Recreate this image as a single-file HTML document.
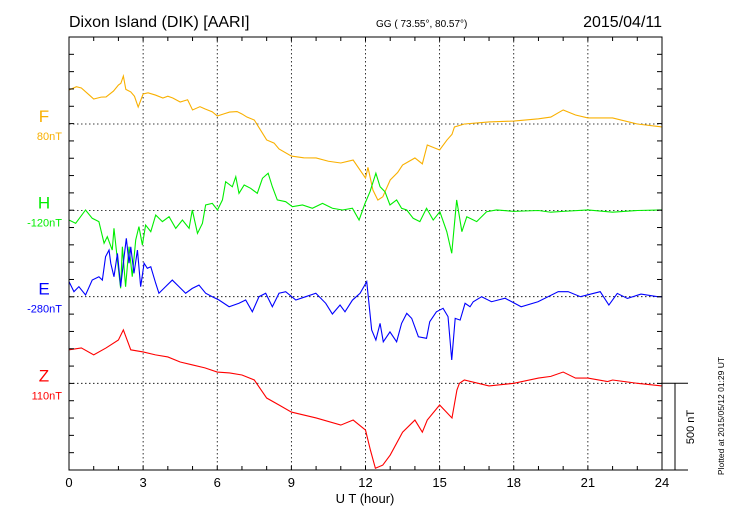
<!DOCTYPE html>
<html><head><meta charset="utf-8"><style>
body{margin:0;background:#fff;}
svg{display:block;font-family:"Liberation Sans",sans-serif;}
</style></head><body>
<svg width="730" height="520" viewBox="0 0 730 520">
<text x="69" y="27" font-size="16">Dixon Island (DIK)  [AARI]</text>
<text x="376" y="27" font-size="10">GG ( 73.55°,  80.57°)</text>
<text x="662" y="27" font-size="16" text-anchor="end">2015/04/11</text>
<g id="grid"></g>
<g id="series"></g>
<rect x="69" y="37" width="593" height="433" fill="none" stroke="#000" stroke-width="1"/>
<g id="axes"></g>
<text x="365" y="503" font-size="13" text-anchor="middle">U T (hour)</text>
<line x1="662" y1="383.3" x2="688" y2="383.3" stroke="#000"/>
<line x1="662" y1="470" x2="688" y2="470" stroke="#000"/>
<line x1="675" y1="383.3" x2="675" y2="470" stroke="#000"/>
<text transform="translate(694,427) rotate(-90)" font-size="11" text-anchor="middle">500 nT</text>
<text transform="translate(724,416) rotate(-90)" font-size="8.5" text-anchor="middle">Plotted at 2015/05/12 01:29 UT</text>
</svg>
<script>
const hours=[0,3,6,9,12,15,18,21,24];
const fT=[0,0.3,0.5,0.8,1,1.3,1.5,1.8,2,2.1,2.2,2.3,2.5,2.65,2.8,3,3.2,3.5,3.8,4,4.2,4.5,4.8,5,5.3,5.5,5.8,6,6.3,6.5,6.8,7,7.2,7.5,8,8.3,8.5,9,9.5,10,10.5,11,11.5,12,12.1,12.3,12.5,12.7,13,13.3,13.5,14,14.3,14.5,15,15.3,15.5,15.6,16,17,18,19,19.5,20,20.5,21,22,23,24];
const fV=[196,215,208,170,144,155,156,190,225,235,277,200,185,160,98,173,180,167,150,160,150,127,140,81,100,87,70,46,60,69,72,58,40,23,-92,-110,-144,-185,-195,-196,-215,-225,-208,-312,-250,-381,-439,-420,-323,-280,-237,-196,-230,-121,-150,-92,-60,-17,0,12,17,30,40,81,52,35,35,0,-17];
const hT=[0,0.27,0.67,0.94,1.21,1.42,1.55,1.75,1.82,1.96,2.09,2.16,2.29,2.43,2.56,2.7,2.83,2.97,3.1,3.31,3.51,3.78,4.05,4.32,4.59,4.86,4.99,5.2,5.4,5.53,5.8,6.01,6.21,6.34,6.61,6.75,6.88,7.09,7.35,7.62,7.83,8.06,8.23,8.43,8.77,9.04,9.45,9.85,10.26,10.66,11.07,11.47,11.74,11.98,12.18,12.42,12.59,12.79,12.99,13.26,13.46,13.67,13.93,14.2,14.47,14.74,15.01,15.29,15.49,15.69,15.9,16.1,16.5,16.9,17.3,18,19,19.5,20,21,22,23,24];
const hV=[-55,-74,3,-45,-64,-189,-151,-228,-103,-286,-449,-209,-440,-209,-382,-170,-93,-199,-84,-122,-26,-64,-36,-103,-55,-103,3,-132,-74,32,41,3,61,166,137,195,99,147,128,99,186,215,137,61,51,22,32,13,41,13,3,13,-55,41,108,215,137,108,32,61,13,3,-45,-64,13,-55,-7,-122,-247,61,-122,-36,-64,-7,3,-5,0,-10,-5,3,-10,0,3];
const eT=[0,0.2,0.4,0.67,0.94,1.21,1.35,1.48,1.62,1.69,1.82,1.96,2.09,2.23,2.32,2.43,2.5,2.63,2.77,2.9,3.04,3.17,3.31,3.51,3.64,3.91,4.18,4.45,4.72,4.99,5.26,5.53,5.8,6.07,6.48,6.88,7.15,7.42,7.69,7.96,8.23,8.5,8.77,9.18,9.58,9.99,10.39,10.66,10.97,11.17,11.47,11.78,12.05,12.25,12.42,12.59,12.72,12.99,13.26,13.46,13.67,13.87,14.14,14.47,14.6,14.87,15.14,15.34,15.49,15.63,15.83,16.03,16.23,16.36,16.7,17.1,17.65,18.3,18.98,19.8,20.2,20.7,21.5,21.85,22.19,22.6,23.15,23.82,24];
const eV=[87,29,58,10,96,115,96,231,269,193,115,250,58,231,337,193,288,135,269,58,193,164,173,77,20,58,96,58,20,48,67,20,0,-19,-58,-38,-19,-87,0,20,-58,20,29,-19,0,20,-38,-100,-48,-87,-20,20,87,-192,-250,-154,-260,-203,-260,-154,-96,-125,-231,-240,-144,-87,-67,-115,-365,-125,-135,-38,-58,-29,0,-29,-9,-58,-29,29,29,0,29,-48,19,-10,15,0,0];
const zT=[0,0.5,1,1.5,2,2.2,2.5,3,3.5,4,4.5,5,5.5,6,6.5,7,7.5,8,8.5,9,10,11,11.5,12,12.2,12.4,12.7,13,13.5,14,14.3,14.5,15,15.5,15.7,15.8,16,17,18,19,19.5,20,20.5,21,21.8,22,23,24];
const zV=[193,204,164,204,250,308,193,181,164,152,123,106,89,65,60,48,19,-85,-125,-166,-200,-241,-212,-270,-386,-490,-472,-414,-282,-212,-282,-212,-125,-200,-39,0,19,-15,0,30,40,65,30,30,10,19,0,-15];
const NS="http://www.w3.org/2000/svg";
const X0=69,X1=662,Y0=37,Y1=470,PX=0.17333;
const xs=t=>X0+t*(X1-X0)/24;
const ys=(base,v)=>base-v*PX;
function mk(tag,attrs,parent){const e=document.createElementNS(NS,tag);for(const k in attrs)e.setAttribute(k,attrs[k]);parent.appendChild(e);return e;}
const grid=document.getElementById('grid'),axes=document.getElementById('axes'),ser=document.getElementById('series');
const baselines=[124,210.5,296.7,383.3];
hours.forEach(h=>{
  if(h>0&&h<24){const l=mk('line',{x1:xs(h),x2:xs(h),y1:Y0,y2:Y1,stroke:'#000','stroke-width':0.8,'stroke-dasharray':'1.5,2.5'},grid);
  
  }
  const t=mk('text',{x:xs(h),y:487,'font-size':13,'text-anchor':'middle'},axes);t.textContent=h;
  
  
});
baselines.forEach(b=>{const l=mk('line',{x1:X0,x2:X1,y1:b,y2:b,stroke:'#000','stroke-width':0.8,'stroke-dasharray':'1.5,2.5'},grid);
  
  });
for(let h=1;h<24;h++){
  mk('line',{x1:xs(h),x2:xs(h),y1:Y0,y2:Y0+4,stroke:'#000'},axes);
  mk('line',{x1:xs(h),x2:xs(h),y1:Y1,y2:Y1-4,stroke:'#000'},axes);
}
for(let i=1;i<25;i++){const y=Y1-i*(Y1-Y0)/25;
  mk('line',{x1:X0,x2:X0+5,y1:y,y2:y,stroke:'#000'},axes);
  mk('line',{x1:X1,x2:X1-5,y1:y,y2:y,stroke:'#000'},axes);
}
const defs=[['F','80nT','#f9b000',fT,fV,124],['H','-120nT','#00ee00',hT,hV,210.5],['E','-280nT','#0000ff',eT,eV,296.7],['Z','110nT','#ff0000',zT,zV,383.3]];
defs.forEach(([n,off,c,T,V,b])=>{
  const p=mk('polyline',{points:T.map((t,i)=>xs(t)+','+ys(b,V[i])).join(' '),fill:'none',stroke:c,'stroke-width':1.1},ser);
  
  
  const l=mk('text',{x:44,y:b-2,'font-size':17,fill:c,'text-anchor':'middle'},axes);l.textContent=n;
  
  
  const o=mk('text',{x:62,y:b+16,'font-size':11,fill:c,'text-anchor':'end'},axes);o.textContent=off;
  
  
});
</script>
</body></html>
